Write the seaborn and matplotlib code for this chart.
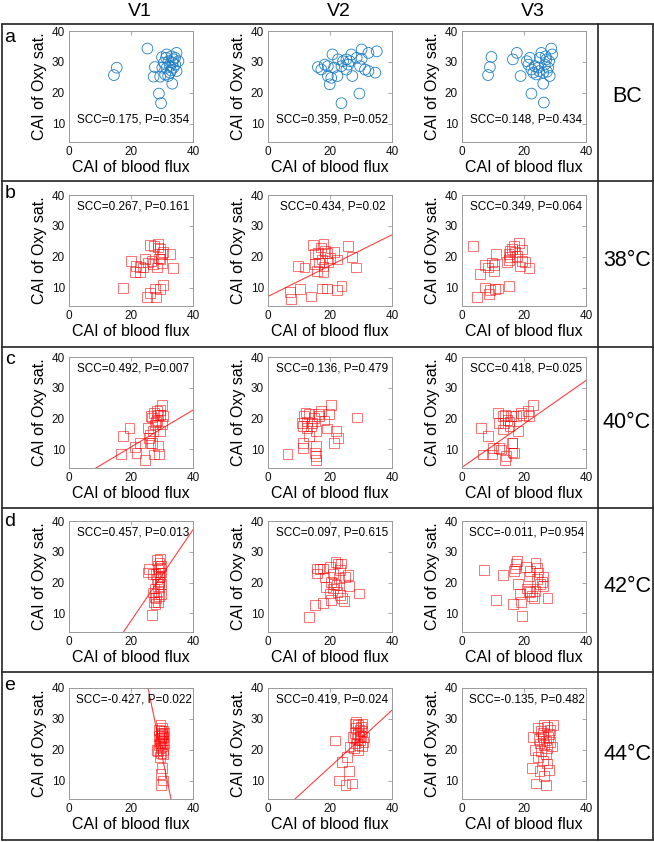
import numpy as np
import matplotlib
matplotlib.use('Agg')
from matplotlib import pyplot as plt
from matplotlib.lines import Line2D
import seaborn as sns

col_names = ['V1', 'V2', 'V3']
row_letters = ['a', 'b', 'c', 'd', 'e']
row_names = ['BC', '38°C', '40°C', '42°C', '44°C']

# ---- BC (circles) ----
x_a1 = [25.3, 15.4, 14.5, 27.7, 27.3, 29.4, 29.0, 29.7, 33.3, 31.5, 34.7, 30.0, 32.1, 33.7, 32.6,
        34.3, 31.0, 32.6, 34.7, 31.5, 33.7, 30.6, 33.1, 32.0, 34.2, 35.3, 31.3, 33.4, 32.9, 30.1]
y_a1 = [34.3, 28.1, 25.7, 28.3, 25.2, 25.2, 19.7, 16.6, 22.9, 32.4, 32.9, 31.5, 30.2, 30.8, 28.6,
        29.1, 25.9, 26.5, 27.0, 28.1, 28.1, 29.7, 31.8, 25.4, 31.3, 30.2, 31.3, 29.7, 27.2, 28.1]
x_a2 = [16.1, 17.2, 19.3, 20.8, 19.3, 20.4, 19.9, 22.4, 21.3, 23.7, 24.2, 25.3, 26.4, 26.9, 28.6,
        30.2, 30.2, 32.4, 35.1, 29.7, 31.3, 32.4, 34.6, 27.2, 25.3, 29.5, 23.7, 22.6, 25.9, 18.3]
y_a2 = [28.3, 27.5, 28.6, 32.4, 25.4, 24.8, 22.7, 25.4, 28.1, 28.6, 30.2, 30.8, 30.2, 32.4, 31.3,
        31.0, 34.0, 32.9, 33.4, 28.6, 27.5, 27.0, 26.5, 25.4, 27.5, 19.7, 16.6, 30.8, 29.1, 29.1]
x_a3 = [9.5, 9.0, 8.4, 17.7, 16.4, 18.9, 21.9, 21.4, 22.4, 23.5, 24.6, 24.0, 25.6, 28.8, 29.1,
        27.2, 28.1, 26.7, 27.8, 26.2, 28.3, 26.2, 22.4, 26.4, 25.1, 23.0, 27.4, 20.9, 24.9, 27.0]
y_a3 = [31.6, 28.3, 25.7, 32.9, 30.8, 25.4, 31.3, 29.1, 27.5, 28.6, 28.1, 25.9, 32.9, 34.3, 32.4,
        30.8, 30.2, 29.1, 28.1, 26.5, 25.4, 22.9, 19.7, 16.8, 31.3, 26.5, 26.8, 30.2, 27.0, 31.8]

# ---- 38 C ----
x_b1 = [17.4, 20.1, 21.5, 21.2, 22.8, 23.0, 24.5, 25.5, 26.1, 27.4, 27.2, 28.8, 29.3, 29.9, 29.1,
        30.4, 32.6, 33.5, 29.9, 26.6, 30.2, 29.3, 27.7, 26.1, 28.0, 25.2, 28.6, 28.3, 29.5, 23.9]
y_b1 = [9.8, 18.6, 17.0, 14.9, 16.7, 14.9, 19.2, 18.1, 23.7, 23.5, 17.6, 24.1, 22.4, 20.8, 19.4,
        21.6, 20.8, 16.2, 17.9, 18.6, 10.8, 9.5, 9.7, 8.1, 6.8, 6.8, 23.0, 16.5, 19.2, 16.5]
x_b2 = [9.6, 11.8, 14.6, 15.1, 16.0, 16.5, 17.9, 18.4, 17.3, 19.5, 19.0, 21.2, 22.3, 17.9, 17.9,
        15.7, 25.9, 27.2, 28.3, 7.2, 7.5, 10.2, 13.8, 17.3, 19.0, 22.3, 23.7, 15.1, 17.1, 20.1]
y_b2 = [17.0, 16.5, 23.7, 17.6, 21.2, 18.1, 24.0, 21.8, 19.1, 18.1, 21.2, 21.5, 19.1, 16.8, 14.9,
        15.4, 23.5, 20.0, 16.5, 8.6, 6.4, 9.5, 7.1, 9.7, 9.7, 9.2, 10.5, 20.8, 23.0, 19.7]
x_b3 = [3.5, 5.9, 7.5, 8.3, 9.7, 10.2, 11.1, 4.8, 8.6, 9.1, 10.7, 11.5, 15.1, 15.1, 15.4,
        15.1, 16.7, 18.3, 17.0, 19.4, 17.7, 20.4, 18.8, 21.5, 16.1, 14.5, 7.5, 10.2, 19.4, 15.6]
y_b3 = [23.5, 14.5, 17.2, 16.5, 18.1, 15.4, 20.8, 6.8, 7.8, 9.2, 9.5, 9.7, 10.5, 18.9, 20.0,
        20.8, 23.5, 24.3, 21.4, 22.3, 20.2, 18.4, 16.8, 16.2, 22.5, 18.4, 10.0, 17.2, 18.6, 21.9]

# ---- 40 C ----
x_c1 = [16.8, 17.5, 19.5, 21.3, 21.8, 22.9, 24.5, 25.6, 25.9, 26.3, 26.7, 27.4, 28.8, 29.1, 28.3,
        28.5, 27.7, 29.4, 29.9, 29.4, 29.9, 30.4, 27.2, 28.8, 27.5, 26.1, 26.9, 28.0, 26.4, 29.4]
y_c1 = [8.6, 14.3, 17.0, 10.8, 8.9, 12.2, 6.5, 17.0, 13.8, 12.2, 20.4, 8.4, 11.1, 8.6, 22.6,
        19.7, 18.1, 21.3, 24.5, 15.9, 18.3, 20.8, 15.9, 21.3, 21.8, 14.8, 12.2, 18.9, 20.8, 22.9]
x_c2 = [6.3, 11.0, 11.3, 11.6, 12.1, 13.2, 12.7, 13.2, 11.3, 11.3, 14.3, 14.8, 15.4, 15.4, 15.1,
        15.4, 15.4, 16.5, 17.1, 19.8, 20.4, 19.0, 21.3, 22.0, 22.6, 28.6, 13.8, 18.2, 12.7, 16.2]
y_c2 = [8.6, 18.6, 17.5, 20.8, 21.8, 21.5, 17.0, 14.3, 12.2, 10.5, 18.6, 20.2, 15.9, 11.1, 8.9,
        7.8, 6.5, 20.8, 22.6, 21.5, 24.5, 16.8, 12.2, 16.1, 13.8, 20.4, 17.5, 19.4, 19.1, 21.5]
x_c3 = [6.1, 8.3, 6.7, 9.7, 11.5, 11.8, 12.0, 13.1, 13.7, 13.1, 14.0, 14.2, 14.0, 14.7, 15.3,
        15.8, 16.1, 16.3, 16.9, 18.0, 17.4, 19.0, 19.6, 21.7, 22.8, 16.3, 9.9, 12.6, 15.3, 21.2]
y_c3 = [17.0, 14.3, 8.4, 8.4, 21.8, 18.6, 10.5, 20.8, 18.6, 16.5, 21.3, 7.8, 6.5, 19.7, 17.5,
        20.8, 12.2, 9.0, 8.9, 15.9, 20.8, 21.8, 21.3, 20.8, 24.5, 12.2, 10.5, 10.0, 19.1, 22.6]

# ---- 42 C ----
x_d1 = [25.9, 25.4, 26.8, 27.0, 27.6, 27.4, 27.9, 28.1, 28.6, 28.6, 29.2, 29.2, 29.4, 29.5, 29.7,
        29.2, 29.0, 29.7, 27.9, 28.4, 29.2, 29.7, 28.6, 28.3, 27.6, 28.9, 29.5, 27.0, 28.6, 29.7]
y_d1 = [24.4, 23.3, 9.5, 16.8, 15.2, 13.6, 13.0, 14.9, 17.4, 19.5, 21.7, 26.5, 27.8, 24.9, 23.3,
        20.1, 15.7, 16.3, 22.8, 21.1, 18.6, 19.5, 25.5, 27.4, 18.1, 23.3, 22.0, 22.8, 13.8, 25.5]
x_d2 = [13.3, 15.1, 17.7, 20.4, 15.8, 15.8, 17.7, 18.2, 18.8, 19.9, 20.4, 21.0, 21.0, 21.8, 22.4,
        23.2, 23.5, 22.1, 22.4, 23.2, 23.8, 24.6, 24.9, 25.7, 26.2, 29.3, 16.6, 19.9, 22.8, 21.3]
y_d2 = [8.9, 12.7, 13.5, 14.3, 24.6, 23.0, 24.6, 21.7, 18.6, 25.1, 20.3, 18.1, 23.0, 26.8, 26.2,
        24.1, 26.2, 19.2, 17.0, 15.9, 14.9, 14.1, 21.9, 22.4, 18.9, 16.5, 24.3, 16.5, 21.4, 19.7]
x_d3 = [7.2, 11.1, 13.1, 16.5, 17.2, 17.7, 17.5, 18.0, 19.0, 19.4, 18.8, 20.7, 21.5, 21.0, 22.0,
        22.6, 23.3, 23.7, 24.2, 24.7, 25.1, 25.8, 26.3, 26.1, 27.6, 23.7, 16.7, 21.5, 24.2, 22.0]
y_d3 = [24.1, 14.3, 22.4, 13.0, 24.6, 27.1, 26.0, 19.5, 13.6, 9.2, 16.3, 25.2, 22.0, 18.1, 17.0,
        15.7, 14.9, 26.5, 24.9, 23.3, 19.5, 20.1, 22.0, 18.8, 14.9, 17.4, 23.8, 17.4, 21.1, 23.8]

# ---- 44 C ----
x_e1 = [29.5, 30.0, 29.0, 30.5, 29.5, 30.0, 29.0, 30.5, 29.8, 29.2, 30.2, 29.6, 30.8, 29.0, 30.0,
        29.5, 30.4, 28.8, 29.8, 30.2, 29.4, 28.5, 30.6, 29.7, 29.3, 30.0, 29.5, 30.2, 29.8, 30.0]
y_e1 = [28.0, 27.0, 26.5, 26.0, 25.5, 25.0, 24.5, 24.0, 23.8, 23.5, 23.0, 22.5, 22.0, 21.5, 21.0,
        20.5, 20.0, 19.5, 19.0, 18.5, 17.5, 20.0, 25.5, 26.0, 22.0, 14.0, 12.0, 10.0, 8.5, 24.5]
x_e2 = [28.0, 29.0, 30.0, 28.5, 29.5, 30.5, 28.0, 29.0, 30.0, 27.5, 28.8, 29.8, 30.8, 28.2, 29.2,
        30.2, 27.8, 29.0, 31.0, 30.5, 26.5, 25.5, 24.0, 21.5, 23.0, 25.0, 26.0, 27.0, 29.5, 28.5]
y_e2 = [28.5, 28.0, 27.5, 27.0, 26.5, 26.0, 25.5, 25.0, 24.5, 24.0, 23.5, 23.0, 22.5, 22.0, 21.5,
        21.0, 20.5, 20.0, 24.0, 28.5, 21.0, 17.5, 16.0, 23.0, 10.0, 8.5, 13.0, 9.0, 24.0, 29.0]
x_e3 = [23.0, 24.5, 25.5, 26.5, 27.5, 28.0, 26.0, 27.0, 28.5, 25.0, 26.5, 27.5, 29.0, 25.5, 27.0,
        24.5, 26.0, 27.5, 22.5, 25.0, 28.0, 26.5, 24.0, 27.0, 29.5, 28.5, 23.5, 26.0, 27.8, 24.8]
y_e3 = [24.0, 27.0, 26.0, 28.0, 27.5, 25.0, 24.0, 23.0, 22.5, 22.0, 21.5, 20.5, 21.0, 19.5, 18.5,
        17.5, 16.5, 15.5, 14.0, 13.0, 13.5, 11.5, 9.0, 8.5, 28.0, 26.5, 20.0, 25.5, 24.0, 23.5]

scc_text = [
    ['SCC=0.175, P=0.354', 'SCC=0.359, P=0.052', 'SCC=0.148, P=0.434'],
    ['SCC=0.267, P=0.161', 'SCC=0.434, P=0.02', 'SCC=0.349, P=0.064'],
    ['SCC=0.492, P=0.007', 'SCC=0.136, P=0.479', 'SCC=0.418, P=0.025'],
    ['SCC=0.457, P=0.013', 'SCC=0.097, P=0.615', 'SCC=-0.011, P=0.954'],
    ['SCC=-0.427, P=0.022', 'SCC=0.419, P=0.024', 'SCC=-0.135, P=0.482'],
]

# fitted lines (None = no line drawn)
fit_slope = [[None, None, None], [None, 0.50, None], [0.60, None, 0.705],
             [1.48, None, None], [-4.86, 0.92, None]]
fit_icpt = [[None, None, None], [None, 7.1, None], [-1.2, None, 4.2],
            [-22.0, None, None], [163.9, -4.0, None]]

xs = [[x_a1, x_a2, x_a3], [x_b1, x_b2, x_b3], [x_c1, x_c2, x_c3], [x_d1, x_d2, x_d3], [x_e1, x_e2, x_e3]]
ys = [[y_a1, y_a2, y_a3], [y_b1, y_b2, y_b3], [y_c1, y_c2, y_c3], [y_d1, y_d2, y_d3], [y_e1, y_e2, y_e3]]

sns.set_theme(style='white')
plt.rcParams['font.family'] = ['Liberation Sans', 'DejaVu Sans']

W, H = 654, 842
fig = plt.figure(figsize=(W / 100, H / 100), dpi=100)

col_left = [69, 268, 462]
row_top = [31, 195, 357, 521, 688]
ax_w, ax_h = 124, 111
sep_y = [24, 181, 347, 508, 672, 840]

for i in range(5):
    for j in range(3):
        ax = fig.add_axes([col_left[j] / W, 1 - (row_top[i] + ax_h) / H, ax_w / W, ax_h / H])
        if i == 0:
            sns.scatterplot(x=xs[i][j], y=ys[i][j], ax=ax, marker='o', s=60,
                            facecolor='none', edgecolor='#1f7fc4', linewidth=0.6)
        else:
            sns.scatterplot(x=xs[i][j], y=ys[i][j], ax=ax, marker='s', s=50,
                            facecolor='none', edgecolor='#ff0000', linewidth=0.7, alpha=0.55)
        if fit_slope[i][j] is not None:
            ax.axline((0, fit_icpt[i][j]), slope=fit_slope[i][j], color='#ff0000', lw=0.8, alpha=0.75)
        ax.set_xlim(0, 40)
        ax.set_ylim(4, 40)
        ax.set_xticks([0, 20, 40])
        ax.set_yticks([10, 20, 30, 40])
        ax.tick_params(direction='in', top=True, right=True, length=3, width=0.6,
                       color='#9a9a9a', labelsize=8.5, labelcolor='#111111', pad=3)
        for sp in ax.spines.values():
            sp.set_color('#9a9a9a')
            sp.set_linewidth(0.7)
        ax.set_xlabel('CAI of blood flux', fontsize=11.5, labelpad=1, color='black')
        ax.set_ylabel('CAI of Oxy sat.', fontsize=11.5, labelpad=3, color='black')
        ty = 0.2 if i == 0 else 0.9
        ax.text(0.52, ty, scc_text[i][j], transform=ax.transAxes, ha='center', va='center',
                fontsize=8.5, color='black')

# frame lines of the panel grid
for yy in sep_y:
    fig.add_artist(Line2D([1.5 / W, 652.5 / W], [1 - yy / H, 1 - yy / H], color='#222222', lw=1.2))
for xx in [1.5, 597.5, 652.5]:
    fig.add_artist(Line2D([xx / W, xx / W], [1 - sep_y[0] / H, 1 - sep_y[-1] / H], color='#222222', lw=1.2))

# headers and row labels
for j, name in enumerate(col_names):
    fig.text((col_left[j] + ax_w / 2 + 9) / W, 1 - 12 / H, name, ha='center', va='center',
             fontsize=14, color='black')
for i in range(5):
    fig.text(10 / W, 1 - (sep_y[i] + 13) / H, row_letters[i], ha='center', va='center',
             fontsize=14, color='black')
    fig.text(627 / W, 1 - (row_top[i] + 66) / H, row_names[i], ha='center', va='center',
             fontsize=15.5, color='black')

fig.savefig('out.png', dpi=100)
